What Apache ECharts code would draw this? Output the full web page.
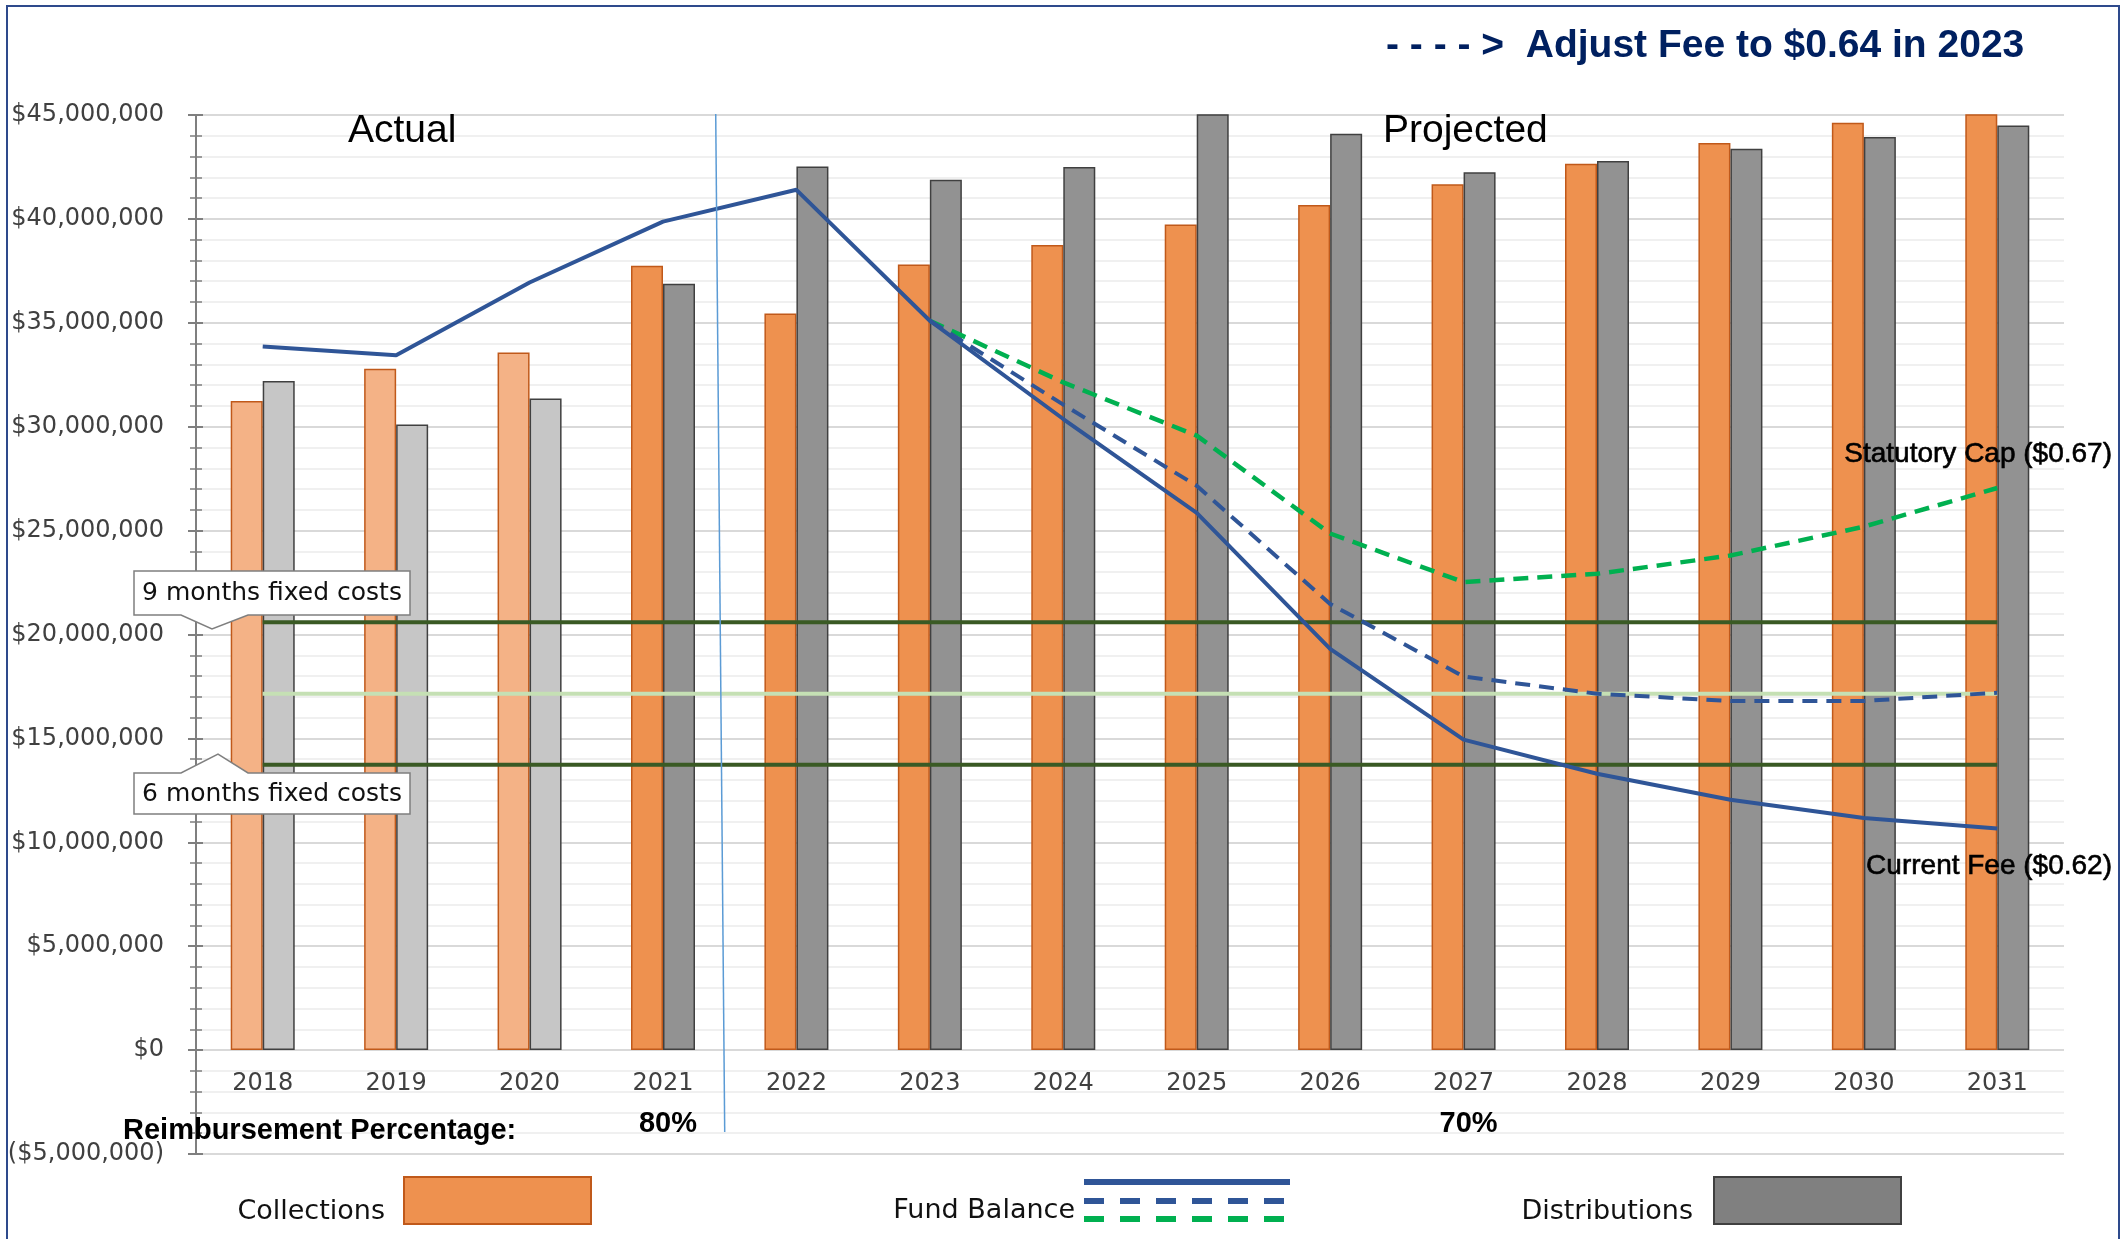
<!DOCTYPE html>
<html><head><meta charset="utf-8">
<script src="https://cdn.jsdelivr.net/npm/echarts@6/dist/echarts.min.js"></script>
<style>html,body{margin:0;padding:0;background:#fff}#c{width:2125px;height:1239px}</style>
</head><body><div id="c"></div>
<script>
// ---------------- data ----------------
const years = ['2018','2019','2020','2021','2022','2023','2024','2025','2026','2027','2028','2029','2030','2031'];
const actualYears = ['2018','2019','2020'];           // drawn in lighter colours
const collections   = [31240000, 32790000, 33570000, 37740000, 35450000, 37800000, 38750000, 39730000, 40670000, 41670000, 42660000, 43650000, 44630000, 45600000];
const distributions = [32200000, 30100000, 31360000, 36880000, 42520000, 41880000, 42500000, 45800000, 44100000, 42240000, 42790000, 43380000, 43940000, 44490000];
const fundBalanceCurrent = [33860000, 33440000, 36940000, 39870000, 41400000, 35100000, 30370000, 25850000, 19310000, 14940000, 13300000, 12050000, 11170000, 10660000];
const fundBalanceAdjust  = [null, null, null, null, null, 35100000, 31060000, 27160000, 21470000, 17980000, 17150000, 16800000, 16800000, 17200000];
const fundBalanceCap     = [null, null, null, null, null, 35100000, 32130000, 29570000, 24860000, 22520000, 22920000, 23800000, 25190000, 27050000];
const nineMonthsFixed = [20590000, 20590000, 20590000, 20590000, 20590000, 20590000, 20590000, 20590000, 20590000, 20590000, 20590000, 20590000, 20590000, 20590000];
const targetBalance   = [17150000, 17150000, 17150000, 17150000, 17150000, 17150000, 17150000, 17150000, 17150000, 17150000, 17150000, 17150000, 17150000, 17150000];
const sixMonthsFixed  = [13730000, 13730000, 13730000, 13730000, 13730000, 13730000, 13730000, 13730000, 13730000, 13730000, 13730000, 13730000, 13730000, 13730000];
const yMin = -5000000, yMax = 45000000, yStep = 5000000;
const reimbursement = [{year: '2021', text: '80%'}, {year: '2027', text: '70%'}];

// ---------------- styles ----------------
const C = {
  coll: '#EE914F', collLight: '#F4B286', collBorder: '#C0591A',
  dist: '#929292', distLight: '#C6C6C6', distBorder: '#404040',
  fund: '#2F5597', cap: '#00B050', darkGreen: '#3A5A24', lightGreen: '#C5E0B4',
  navy: '#002060'
};
const AX = 'DejaVu Sans';
const LS = 'Liberation Sans';

function barData(vals, light, normal, border) {
  return vals.map((v, i) => ({
    value: v,
    itemStyle: { color: actualYears.includes(years[i]) ? light : normal, borderColor: border, borderWidth: 1.5 }
  }));
}
function money(v) {
  const s = '$' + Math.abs(v).toLocaleString('en-US');
  return v < 0 ? '(' + s + ')' : s;
}

const chart = echarts.init(document.getElementById('c'), null, {renderer: 'canvas'});
const yBase = {
  type: 'value', min: yMin, max: yMax, interval: yStep, position: 'left'
};
chart.setOption({
  animation: false,
  backgroundColor: '#fff',
  grid: { left: 196, right: 61, top: 115, bottom: 85, containLabel: false, outerBoundsMode: 'none' },
  xAxis: {
    type: 'category', data: years, boundaryGap: true, position: 'bottom', offset: 0,
    axisLine: { show: false, onZero: false },
    axisTick: { show: false },
    axisLabel: { color: '#404040', fontFamily: AX, fontSize: 24, margin: 22 },
    splitLine: { show: false }
  },
  yAxis: [
    Object.assign({}, yBase, {
      axisLine: { show: true, lineStyle: { color: '#7F7F7F', width: 2 } },
      axisTick: { show: true, inside: false, length: 8, lineStyle: { color: '#7F7F7F', width: 2 } },
      minorTick: { show: true, splitNumber: 5, length: 6, lineStyle: { color: '#7F7F7F', width: 1.5 } },
      axisLabel: { color: '#404040', fontFamily: AX, fontSize: 24, margin: 32, formatter: money },
      splitLine: { show: true, lineStyle: { color: '#D9D9D9', width: 2 } },
      minorSplitLine: { show: true, lineStyle: { color: '#F0F0F0', width: 2 } }
    }),
    Object.assign({}, yBase, {
      axisLine: { show: false },
      axisTick: { show: true, inside: true, length: 7, lineStyle: { color: '#7F7F7F', width: 2 } },
      minorTick: { show: true, splitNumber: 5, length: 6, lineStyle: { color: '#7F7F7F', width: 1.5 } },
      axisLabel: { show: false },
      splitLine: { show: false }
    })
  ],
  series: [
    { name: 'Collections', type: 'bar', data: barData(collections, C.collLight, C.coll, C.collBorder),
      barWidth: 32, barGap: '0%', clip: true, z: 2 },
    { name: 'Distributions', type: 'bar', data: barData(distributions, C.distLight, C.dist, C.distBorder),
      barWidth: 32, barGap: '0%', clip: true, z: 2 },
    { name: '9 months fixed costs', type: 'line', data: nineMonthsFixed, symbol: 'none', z: 4,
      lineStyle: { color: C.darkGreen, width: 4 } },
    { name: 'Target', type: 'line', data: targetBalance, symbol: 'none', z: 4,
      lineStyle: { color: C.lightGreen, width: 4 } },
    { name: '6 months fixed costs', type: 'line', data: sixMonthsFixed, symbol: 'none', z: 4,
      lineStyle: { color: C.darkGreen, width: 4 } },
    { name: 'Statutory Cap ($0.67)', type: 'line', data: fundBalanceCap, symbol: 'none', z: 5, connectNulls: false,
      lineStyle: { color: C.cap, width: 4.5, type: [15, 9] } },
    { name: 'Adjust Fee ($0.64)', type: 'line', data: fundBalanceAdjust, symbol: 'none', z: 5,
      lineStyle: { color: C.fund, width: 4, type: [15, 9] } },
    { name: 'Current Fee ($0.62)', type: 'line', data: fundBalanceCurrent, symbol: 'none', z: 6,
      lineStyle: { color: C.fund, width: 4 } }
  ]
});

// ---------------- annotations ----------------
const px = y => chart.convertToPixel({xAxisIndex: 0}, y);
const py = v => chart.convertToPixel({yAxisIndex: 0}, v);
const sepMid = (px('2021') + px('2022')) / 2;
const topY = py(yMax), botY = py(yMin);

// move the category labels up to the $0 line
chart.setOption({ xAxis: { offset: -(botY - py(0)) } });

function callout(points, cx, cy, text) {
  return [
    { type: 'polygon', shape: { points }, z: 100,
      style: { fill: '#fff', stroke: '#7F7F7F', lineWidth: 1.5 } },
    { type: 'text', x: cx, y: cy, z: 101,
      style: { text, fontFamily: AX, fontSize: 25, fill: '#111', align: 'center', verticalAlign: 'middle' } }
  ];
}
const legendTextStyle = { fontFamily: AX, fontSize: 27, fill: '#111', verticalAlign: 'middle' };

const g = [
  // outer border
  { type: 'rect', shape: { x: 7, y: 6, width: 2112, height: 1260 }, z: 0, silent: true,
    style: { fill: 'none', stroke: '#2E4A8C', lineWidth: 2 } },
  // actual / projected separator
  { type: 'line', z: 50, shape: { x1: sepMid - 14, y1: topY - 1, x2: sepMid - 5, y2: botY - 22 },
    style: { stroke: '#5B9BD5', lineWidth: 1.5 } },
  { type: 'text', x: 348, y: 131, z: 50,
    style: { text: 'Actual', fontFamily: LS, fontSize: 39, fill: '#000', verticalAlign: 'middle' } },
  { type: 'text', x: 1383, y: 131, z: 50,
    style: { text: 'Projected', fontFamily: LS, fontSize: 39, fill: '#000', verticalAlign: 'middle' } },
  { type: 'text', x: 1386, y: 46, z: 50,
    style: { text: '- - - - >  Adjust Fee to $0.64 in 2023', fontFamily: LS, fontWeight: 'bold', fontSize: 39, fill: C.navy, verticalAlign: 'middle' } },
  { type: 'text', x: 2112, y: 454, z: 50,
    style: { text: 'Statutory Cap ($0.67)', fontFamily: LS, fontSize: 28, fill: '#000', align: 'right', verticalAlign: 'middle', stroke: '#000', lineWidth: 0.6 } },
  { type: 'text', x: 2112, y: 866, z: 50,
    style: { text: 'Current Fee ($0.62)', fontFamily: LS, fontSize: 28, fill: '#000', align: 'right', verticalAlign: 'middle', stroke: '#000', lineWidth: 0.6 } },
  { type: 'text', x: 123, y: 1131, z: 50,
    style: { text: 'Reimbursement Percentage:', fontFamily: LS, fontWeight: 'bold', fontSize: 29, fill: '#000', verticalAlign: 'middle' } },
  // legend
  { type: 'text', x: 385, y: 1212, z: 50, style: Object.assign({ text: 'Collections', align: 'right' }, legendTextStyle) },
  { type: 'rect', z: 50, shape: { x: 404, y: 1177, width: 187, height: 47 },
    style: { fill: C.coll, stroke: C.collBorder, lineWidth: 2 } },
  { type: 'text', x: 1075, y: 1211, z: 50, style: Object.assign({ text: 'Fund Balance', align: 'right' }, legendTextStyle) },
  { type: 'line', z: 50, shape: { x1: 1084, y1: 1182, x2: 1290, y2: 1182 }, style: { stroke: C.fund, lineWidth: 6 } },
  { type: 'line', z: 50, shape: { x1: 1084, y1: 1201, x2: 1290, y2: 1201 }, style: { stroke: C.fund, lineWidth: 6, lineDash: [20, 16] } },
  { type: 'line', z: 50, shape: { x1: 1084, y1: 1219, x2: 1290, y2: 1219 }, style: { stroke: C.cap, lineWidth: 6, lineDash: [20, 16] } },
  { type: 'text', x: 1693, y: 1212, z: 50, style: Object.assign({ text: 'Distributions', align: 'right' }, legendTextStyle) },
  { type: 'rect', z: 50, shape: { x: 1714, y: 1177, width: 187, height: 47 },
    style: { fill: '#808080', stroke: '#404040', lineWidth: 2 } }
];
reimbursement.forEach(r => g.push({ type: 'text', x: px(r.year) + 5, y: 1124, z: 50,
  style: { text: r.text, fontFamily: LS, fontWeight: 'bold', fontSize: 29, fill: '#000', align: 'center', verticalAlign: 'middle' } }));
g.push(...callout([[134,571],[410,571],[410,615],[248,615],[212,629],[181,615],[134,615]], 272, 593, '9 months fixed costs'));
g.push(...callout([[134,773],[181,773],[218,754],[248,773],[410,773],[410,814],[134,814]], 272, 794, '6 months fixed costs'));

chart.setOption({ graphic: g });
</script>
</body></html>
